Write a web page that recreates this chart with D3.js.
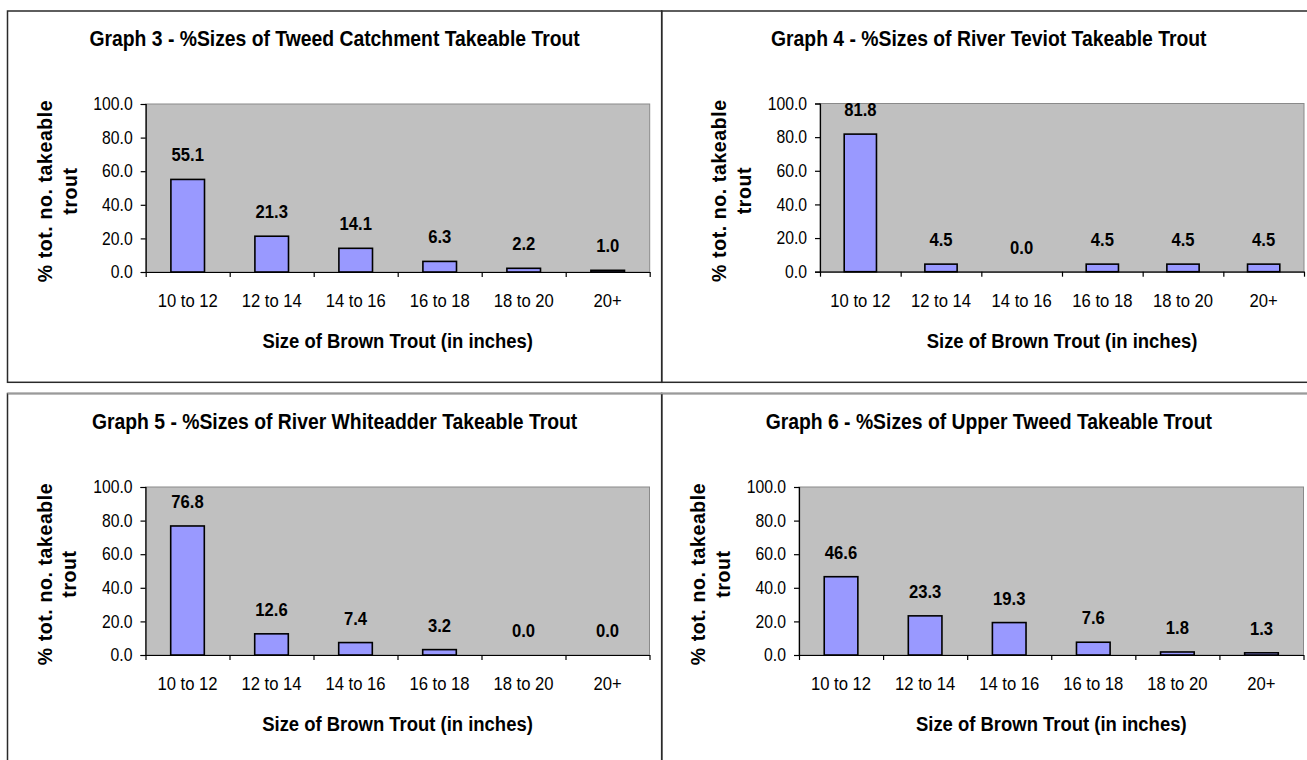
<!DOCTYPE html>
<html>
<head>
<meta charset="utf-8">
<script src="https://cdn.jsdelivr.net/npm/d3@7"></script>
<style>
  html, body { margin: 0; padding: 0; background: #fff; }
  svg { display: block; }
  text { font-family: "Liberation Sans", Arial, sans-serif; fill: #000; }
</style>
</head>
<body>
<svg id="chart" width="1307" height="760"></svg>
<script>
// Size classes of takeable brown trout (inches)
const categories = ["10 to 12", "12 to 14", "14 to 16", "16 to 18", "18 to 20", "20+"];

// Percentage of total number of takeable trout per size class
const tweedCatchment  = [55.1, 21.3, 14.1, 6.3, 2.2, 1.0];
const riverTeviot     = [81.8, 4.5, 0.0, 4.5, 4.5, 4.5];
const riverWhiteadder = [76.8, 12.6, 7.4, 3.2, 0.0, 0.0];
const upperTweed      = [46.6, 23.3, 19.3, 7.6, 1.8, 1.3];

const chartTitles = [
  "Graph 3 - %Sizes of Tweed Catchment Takeable Trout",
  "Graph 4 - %Sizes of River Teviot Takeable Trout",
  "Graph 5 - %Sizes of River Whiteadder Takeable Trout",
  "Graph 6 - %Sizes of Upper Tweed Takeable Trout"
];

const yTicks = [0, 20, 40, 60, 80, 100];
const yTitleLines = ["% tot. no. takeable", "trout"];
const xTitle = "Size of Brown Trout (in inches)";

// Panel frames and plot boxes
const panels = [
  { values: tweedCatchment,  title: chartTitles[0],
    frame: { x: 7.5,   y: 11,    w: 654.2, h: 371.3 }, plot: { x0: 145.7, x1: 649.7, y0: 104,   y1: 272 } },
  { values: riverTeviot,     title: chartTitles[1],
    frame: { x: 661.7, y: 11,    w: 656,   h: 371.3 }, plot: { x0: 820,   x1: 1304,  y0: 103.5, y1: 271.7 } },
  { values: riverWhiteadder, title: chartTitles[2],
    frame: { x: 7.5,   y: 393.5, w: 654.2, h: 380 },   plot: { x0: 145.5, x1: 649.5, y0: 487,   y1: 655 } },
  { values: upperTweed,      title: chartTitles[3],
    frame: { x: 661.7, y: 393.5, w: 656,   h: 380 },   plot: { x0: 799,   x1: 1303.5, y0: 487,  y1: 655 } }
];

const FONT = "Liberation Sans, Arial, sans-serif";
const NARROW = 0.9;   // horizontal squeeze for the narrow lettering

const svg = d3.select("#chart");

// Outer frames
panels.forEach(p => {
  const f = p.frame;
  svg.append("rect")
    .attr("x", f.x).attr("y", f.y).attr("width", f.w).attr("height", f.h)
    .attr("fill", "none").attr("stroke", "#2a2a2a").attr("stroke-width", 1.5);
});
// lighter top edge of the lower row
svg.append("line").attr("x1", 7.5).attr("x2", 1307).attr("y1", 393.5).attr("y2", 393.5)
  .attr("stroke", "#9a9a9a").attr("stroke-width", 1.5);

panels.forEach(p => drawPanel(p));

// place a horizontally squeezed text at (x, y)
function narrowText(parent, x, y, str, size, bold) {
  return parent.append("text")
    .attr("transform", `translate(${x},${y}) scale(${NARROW},1)`)
    .attr("text-anchor", "middle")
    .attr("font-size", size)
    .attr("font-weight", bold ? "bold" : "normal")
    .text(str);
}

function drawPanel(p) {
  const f = p.frame, b = p.plot;
  const g = svg.append("g");

  const x = d3.scaleBand().domain(categories).range([b.x0, b.x1])
    .paddingInner(0.6).paddingOuter(0.3);
  const xEdges = d3.scaleLinear().domain([0, categories.length]).range([b.x0, b.x1]);
  const y = d3.scaleLinear().domain([0, 100]).range([b.y1, b.y0]);

  // plot area
  g.append("rect")
    .attr("x", b.x0).attr("y", b.y0)
    .attr("width", b.x1 - b.x0).attr("height", b.y1 - b.y0)
    .attr("fill", "#c0c0c0").attr("stroke", "#8a8a8a").attr("stroke-width", 1);

  const rows = p.values.map((v, i) => ({ v, c: categories[i] }));

  // bars (empty classes draw nothing)
  g.selectAll("rect.bar")
    .data(rows.filter(d => d.v > 0))
    .join("rect")
    .attr("class", "bar")
    .attr("x", d => x(d.c))
    .attr("width", x.bandwidth())
    .attr("y", d => y(d.v))
    .attr("height", d => y(0) - y(d.v))
    .attr("fill", "#9999ff")
    .attr("stroke", "#000")
    .attr("stroke-width", 1.6);

  // value labels
  rows.forEach(d => {
    narrowText(g, x(d.c) + x.bandwidth() / 2, y(d.v) - 18, d3.format(".1f")(d.v), 18.5, true);
  });

  // y axis
  const yAxis = d3.axisLeft(y).tickValues(yTicks).tickSize(5).tickPadding(0)
    .tickFormat(d3.format(".1f"));
  const ya = g.append("g").attr("transform", `translate(${b.x0},0)`).call(yAxis);
  ya.select(".domain").attr("stroke", "#000").attr("stroke-width", 1.2);
  ya.selectAll(".tick line").attr("stroke", "#000").attr("stroke-width", 1.2);
  ya.selectAll(".tick text")
    .attr("x", null)
    .attr("transform", `translate(-13,0) scale(${NARROW},1)`)
    .attr("font-size", 17.5).attr("font-family", FONT).attr("fill", "#000");

  // x axis: boundary ticks
  const xTickAxis = d3.axisBottom(xEdges).tickValues(d3.range(categories.length + 1))
    .tickSize(5).tickSizeOuter(0).tickFormat("");
  const xa = g.append("g").attr("transform", `translate(0,${b.y1})`).call(xTickAxis);
  xa.select(".domain").attr("stroke", "#000").attr("stroke-width", 1.2);
  xa.selectAll(".tick line").attr("stroke", "#000").attr("stroke-width", 1.2);

  // x axis: category labels
  const xLabelAxis = d3.axisBottom(x).tickSize(0).tickPadding(22);
  const xl = g.append("g").attr("transform", `translate(0,${b.y1})`).call(xLabelAxis);
  xl.select(".domain").remove();
  xl.selectAll(".tick text")
    .attr("transform", `scale(${NARROW},1)`)
    .attr("font-size", 18.5).attr("font-family", FONT).attr("fill", "#000");

  // chart title
  narrowText(g, f.x + 327.1, f.y + 35, p.title, 21.5, true);

  // x title
  narrowText(g, (b.x0 + b.x1) / 2, b.y1 + 76, xTitle, 20.5, true);

  // y title (two lines, rotated)
  const yc = (b.y0 + b.y1) / 2 + 3;
  yTitleLines.forEach((line, i) => {
    const bx = b.x0 - 94 + i * 24.8;
    g.append("text")
      .attr("transform", `translate(${bx},${yc}) rotate(-90)`)
      .attr("text-anchor", "middle")
      .attr("font-size", 19.5).attr("font-weight", "bold")
      .attr("letter-spacing", 0.6)
      .text(line);
  });
}
</script>
</body>
</html>
